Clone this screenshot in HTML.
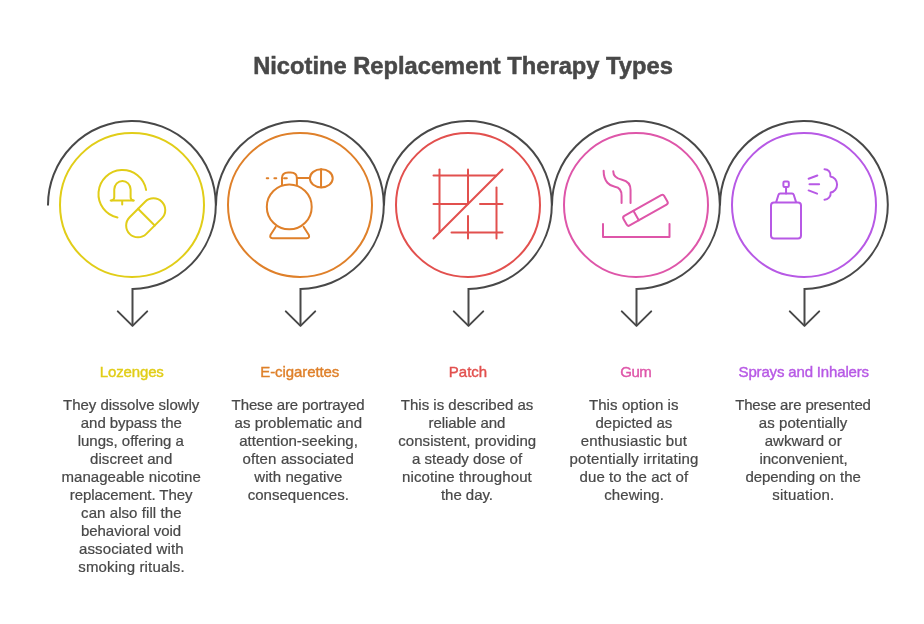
<!DOCTYPE html>
<html lang="en"><head><meta charset="utf-8"><title>Nicotine Replacement Therapy Types</title>
<style>
html,body{margin:0;padding:0;background:#fff;}
body{width:924px;height:624px;position:relative;overflow:hidden;font-family:"Liberation Sans",sans-serif;}
svg{position:absolute;left:0;top:0;}
#txt{position:absolute;left:0;top:0;width:924px;height:624px;will-change:transform;}
h1,h2,p{margin:0;padding:0;font-weight:400;}
.t{position:absolute;display:block;width:600px;height:30px;line-height:30px;text-align:center;white-space:nowrap;font-size:15px;color:#484848;}
h1.t{font-weight:700;}
.c0 h2{color:#E1CD18;}
.c1 h2{color:#DF802A;}
.c2 h2{color:#E2504E;}
.c3 h2{color:#DE56A9;}
.c4 h2{color:#B759E5;}
.t span{display:inline-block;line-height:normal;vertical-align:baseline;}
</style></head><body>
<svg width="924" height="624" viewBox="0 0 924 624">
<path d="M48,205.5 A83.9,84 0 1 1 132.5,288.9 V325.8" fill="none" stroke="#484848" stroke-width="2" stroke-linejoin="miter"/>
<path d="M117.8,311.4 L132.5,325.9 L147.2,311.4" fill="none" stroke="#484848" stroke-width="2" stroke-linejoin="round" stroke-linecap="round"/>
<circle cx="132" cy="205" r="72" fill="none" stroke="#E1CD18" stroke-width="2"/>
<path d="M216,205.5 A83.9,84 0 1 1 300.5,288.9 V325.8" fill="none" stroke="#484848" stroke-width="2" stroke-linejoin="miter"/>
<path d="M285.8,311.4 L300.5,325.9 L315.2,311.4" fill="none" stroke="#484848" stroke-width="2" stroke-linejoin="round" stroke-linecap="round"/>
<circle cx="300" cy="205" r="72" fill="none" stroke="#DF802A" stroke-width="2"/>
<path d="M384,205.5 A83.9,84 0 1 1 468.5,288.9 V325.8" fill="none" stroke="#484848" stroke-width="2" stroke-linejoin="miter"/>
<path d="M453.8,311.4 L468.5,325.9 L483.2,311.4" fill="none" stroke="#484848" stroke-width="2" stroke-linejoin="round" stroke-linecap="round"/>
<circle cx="468" cy="205" r="72" fill="none" stroke="#E2504E" stroke-width="2"/>
<path d="M552,205.5 A83.9,84 0 1 1 636.5,288.9 V325.8" fill="none" stroke="#484848" stroke-width="2" stroke-linejoin="miter"/>
<path d="M621.8,311.4 L636.5,325.9 L651.2,311.4" fill="none" stroke="#484848" stroke-width="2" stroke-linejoin="round" stroke-linecap="round"/>
<circle cx="636" cy="205" r="72" fill="none" stroke="#DE56A9" stroke-width="2"/>
<path d="M720,205.5 A83.9,84 0 1 1 804.5,288.9 V325.8" fill="none" stroke="#484848" stroke-width="2" stroke-linejoin="miter"/>
<path d="M789.8,311.4 L804.5,325.9 L819.2,311.4" fill="none" stroke="#484848" stroke-width="2" stroke-linejoin="round" stroke-linecap="round"/>
<circle cx="804" cy="205" r="72" fill="none" stroke="#B759E5" stroke-width="2"/>
<g fill="none" stroke="#E1CD18" stroke-width="2" stroke-linecap="round" stroke-linejoin="round"><path d="M146.11,189.90 A24.0,24.0 0 1 0 117.48,217.55"/><path d="M111.66,200.5 Q114.26,199.90 114.26,197.30 V189.40 a8.18,8.78 0 0 1 16.35,0 V197.30 Q130.61,199.90 133.21,200.5"/><path d="M110.66,200.5 H133.81"/><path d="M122.2,200.9 V204.42"/><g transform="translate(145.71,217.79) rotate(-45)"><rect x="-22.76" y="-11.80" width="45.52" height="23.60" rx="11.80"/><path d="M0.9,-11.80 V11.80"/></g></g>
<g fill="none" stroke="#DF802A" stroke-width="2" stroke-linecap="round" stroke-linejoin="round"><circle cx="289.26" cy="206.89" r="22.44"/><path d="M281.99,184.78 V178.08 C281.99,173.68 284.19,172.48 288.19,172.48 H290.68 C294.68,172.48 296.88,173.68 296.88,178.08 V184.78"/><path d="M296.88,178.03 H309.35"/><ellipse cx="321.3" cy="178.29" rx="11.43" ry="9.09"/><path d="M321.04,169.37 V187.2"/><path d="M266.75,178.29 H268.23"/><path d="M274.37,178.29 H276.28"/><path d="M284.07,178.29 H286.84"/><path d="M275.64,226.92 L270.63,234.74 Q269.22999999999996,238.14 272.44,238.14 H306.89 Q310.09000000000003,238.14 308.69,234.74 L303.69,226.92"/></g>
<g fill="none" stroke="#E2504E" stroke-width="2" stroke-linecap="round" stroke-linejoin="round"><path d="M433.5,238.5 L502.5,169.5"/><path d="M433.5,175.5 L496.2,175.5"/><path d="M439.5,169.5 L439.5,232.2"/><path d="M433.5,204 L467.6,204"/><path d="M480,204 L502.5,204"/><path d="M468,169.5 L468,203.6"/><path d="M468,216 L468,238.5"/><path d="M496.5,187.5 L496.5,238.5"/><path d="M451.5,232.5 L502.5,232.5"/></g>
<g fill="none" stroke="#DE56A9" stroke-width="2" stroke-linecap="round" stroke-linejoin="round"><path d="M603,224 V237 H669.5 V224"/><g transform="translate(645.46,210.26) rotate(-29.5)"><rect x="-23.40" y="-5.45" width="46.79" height="10.90" rx="2.2"/><path d="M-10.76,-5.45 V5.45"/></g><path d="M603.63,170.83 C603.63,182.05 610.04,186.06 614.85,186.86 C619.65,187.66 621.58,190.06 621.58,195.67 L621.58,202.88"/><path d="M613.24,171.15 C613.24,176.44 618.05,178.85 622.06,179.65 C627.67,180.77 630.55,184.46 630.55,190.06 L630.55,202.88"/></g>
<g fill="none" stroke="#B759E5" stroke-width="2" stroke-linecap="round" stroke-linejoin="round"><rect x="771" y="202.5" width="30" height="36" rx="3"/><path d="M776.18,202.08 L778.49,194.77 Q778.87,193.62 780.15,193.62 L792.08,193.62 Q793.36,193.62 793.74,194.77 L796.05,202.08"/><path d="M786.05,193.62 L786.05,187.85"/><rect x="783.4" y="181.5" width="5.4" height="5.4" rx="1.2"/><path d="M808.62,178.74 L817.33,175.54"/><path d="M809.51,184.26 L819.13,184.26"/><path d="M808.62,190.41 L817.08,193.62"/><path d="M824.51,169.26 C828.1,169.26 830.92,171.95 830.41,176.44 C834.26,176.82 837.08,180.41 837.08,184.51 C837.08,188.62 834.26,192.21 830.67,192.59 C830.92,196.82 828.1,199.51 824.51,199.64"/></g>
</svg>
<div id="txt">
<header><h1 class="t" id="title" style="left:162.57px;top:51.20px;font-size:24.4px;transform:scaleX(0.9717);-webkit-text-stroke-width:0.5px;"><span>Nicotine Replacement Therapy Types</span></h1></header>
<main>
<section class="c0">
<h2 class="t" id="h0" style="left:-168.25px;top:357.00px;letter-spacing:-0.136px;-webkit-text-stroke-width:0.4px;"><span>Lozenges</span></h2>
<p>
<span class="t" id="b0_0" style="left:-168.80px;top:389.70px;letter-spacing:-0.025px;-webkit-text-stroke-width:0.22px;"><span>They dissolve slowly</span></span>
<span class="t" id="b0_1" style="left:-168.68px;top:407.70px;letter-spacing:-0.055px;-webkit-text-stroke-width:0.22px;"><span>and bypass the</span></span>
<span class="t" id="b0_2" style="left:-169.18px;top:425.70px;letter-spacing:-0.015px;-webkit-text-stroke-width:0.22px;"><span>lungs, offering a</span></span>
<span class="t" id="b0_3" style="left:-168.80px;top:443.70px;letter-spacing:0.043px;-webkit-text-stroke-width:0.22px;"><span>discreet and</span></span>
<span class="t" id="b0_4" style="left:-168.80px;top:461.70px;letter-spacing:0.053px;-webkit-text-stroke-width:0.22px;"><span>manageable nicotine</span></span>
<span class="t" id="b0_5" style="left:-168.93px;top:479.70px;letter-spacing:-0.074px;-webkit-text-stroke-width:0.22px;"><span>replacement. They</span></span>
<span class="t" id="b0_6" style="left:-168.68px;top:497.70px;letter-spacing:0.074px;-webkit-text-stroke-width:0.22px;"><span>can also fill the</span></span>
<span class="t" id="b0_7" style="left:-168.93px;top:515.70px;letter-spacing:-0.051px;-webkit-text-stroke-width:0.22px;"><span>behavioral void</span></span>
<span class="t" id="b0_8" style="left:-168.68px;top:533.70px;letter-spacing:0.153px;-webkit-text-stroke-width:0.22px;"><span>associated with</span></span>
<span class="t" id="b0_9" style="left:-168.43px;top:551.70px;letter-spacing:0.142px;-webkit-text-stroke-width:0.22px;"><span>smoking rituals.</span></span>
</p>
</section>
<section class="c1">
<h2 class="t" id="h1" style="left:-0.25px;top:357.00px;letter-spacing:-0.086px;-webkit-text-stroke-width:0.4px;"><span>E-cigarettes</span></h2>
<p>
<span class="t" id="b1_0" style="left:-1.99px;top:389.70px;letter-spacing:-0.119px;-webkit-text-stroke-width:0.22px;"><span>These are portrayed</span></span>
<span class="t" id="b1_1" style="left:-1.74px;top:407.70px;letter-spacing:0.042px;-webkit-text-stroke-width:0.22px;"><span>as problematic and</span></span>
<span class="t" id="b1_2" style="left:-1.49px;top:425.70px;letter-spacing:0.014px;-webkit-text-stroke-width:0.22px;"><span>attention-seeking,</span></span>
<span class="t" id="b1_3" style="left:-1.74px;top:443.70px;letter-spacing:0.142px;-webkit-text-stroke-width:0.22px;"><span>often associated</span></span>
<span class="t" id="b1_4" style="left:-1.61px;top:461.70px;letter-spacing:0.040px;-webkit-text-stroke-width:0.22px;"><span>with negative</span></span>
<span class="t" id="b1_5" style="left:-1.74px;top:479.70px;letter-spacing:0.020px;-webkit-text-stroke-width:0.22px;"><span>consequences.</span></span>
</p>
</section>
<section class="c2">
<h2 class="t" id="h2" style="left:168.00px;top:357.00px;-webkit-text-stroke-width:0.4px;"><span>Patch</span></h2>
<p>
<span class="t" id="b2_0" style="left:167.10px;top:389.70px;-webkit-text-stroke-width:0.22px;"><span>This is described as</span></span>
<span class="t" id="b2_1" style="left:166.97px;top:407.70px;letter-spacing:-0.065px;-webkit-text-stroke-width:0.22px;"><span>reliable and</span></span>
<span class="t" id="b2_2" style="left:167.22px;top:425.70px;letter-spacing:0.059px;-webkit-text-stroke-width:0.22px;"><span>consistent, providing</span></span>
<span class="t" id="b2_3" style="left:167.10px;top:443.70px;-webkit-text-stroke-width:0.22px;"><span>a steady dose of</span></span>
<span class="t" id="b2_4" style="left:166.97px;top:461.70px;letter-spacing:0.119px;-webkit-text-stroke-width:0.22px;"><span>nicotine throughout</span></span>
<span class="t" id="b2_5" style="left:166.97px;top:479.70px;letter-spacing:-0.034px;-webkit-text-stroke-width:0.22px;"><span>the day.</span></span>
</p>
</section>
<section class="c3">
<h2 class="t" id="h3" style="left:335.75px;top:357.00px;letter-spacing:-0.475px;-webkit-text-stroke-width:0.4px;"><span>Gum</span></h2>
<p>
<span class="t" id="b3_0" style="left:333.77px;top:389.70px;letter-spacing:0.091px;-webkit-text-stroke-width:0.22px;"><span>This option is</span></span>
<span class="t" id="b3_1" style="left:333.90px;top:407.70px;-webkit-text-stroke-width:0.22px;"><span>depicted as</span></span>
<span class="t" id="b3_2" style="left:333.90px;top:425.70px;letter-spacing:0.127px;-webkit-text-stroke-width:0.22px;"><span>enthusiastic but</span></span>
<span class="t" id="b3_3" style="left:334.02px;top:443.70px;letter-spacing:0.170px;-webkit-text-stroke-width:0.22px;"><span>potentially irritating</span></span>
<span class="t" id="b3_4" style="left:333.90px;top:461.70px;letter-spacing:0.059px;-webkit-text-stroke-width:0.22px;"><span>due to the act of</span></span>
<span class="t" id="b3_5" style="left:334.15px;top:479.70px;letter-spacing:0.068px;-webkit-text-stroke-width:0.22px;"><span>chewing.</span></span>
</p>
</section>
<section class="c4">
<h2 class="t" id="h4" style="left:503.75px;top:357.00px;letter-spacing:-0.158px;-webkit-text-stroke-width:0.4px;"><span>Sprays and Inhalers</span></h2>
<p>
<span class="t" id="b4_0" style="left:502.98px;top:389.70px;letter-spacing:-0.145px;-webkit-text-stroke-width:0.22px;"><span>These are presented</span></span>
<span class="t" id="b4_1" style="left:503.10px;top:407.70px;letter-spacing:0.073px;-webkit-text-stroke-width:0.22px;"><span>as potentially</span></span>
<span class="t" id="b4_2" style="left:503.23px;top:425.70px;letter-spacing:0.026px;-webkit-text-stroke-width:0.22px;"><span>awkward or</span></span>
<span class="t" id="b4_3" style="left:503.48px;top:443.70px;letter-spacing:-0.020px;-webkit-text-stroke-width:0.22px;"><span>inconvenient,</span></span>
<span class="t" id="b4_4" style="left:503.10px;top:461.70px;letter-spacing:-0.032px;-webkit-text-stroke-width:0.22px;"><span>depending on the</span></span>
<span class="t" id="b4_5" style="left:503.35px;top:479.70px;letter-spacing:0.211px;-webkit-text-stroke-width:0.22px;"><span>situation.</span></span>
</p>
</section>
</main>
</div>
</body></html>
